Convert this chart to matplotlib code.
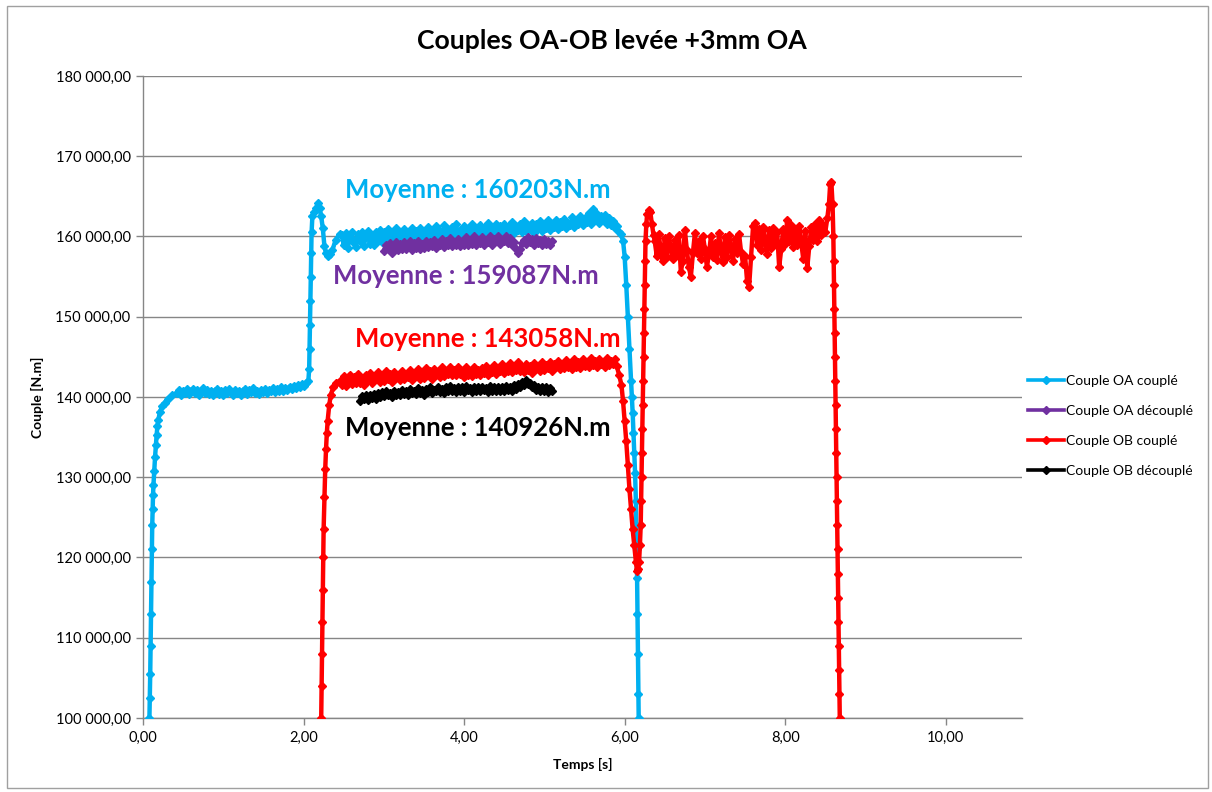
import numpy as np
import matplotlib
matplotlib.use("Agg")
import matplotlib.pyplot as plt
from matplotlib.ticker import FuncFormatter, MultipleLocator
from matplotlib.patches import Rectangle

plt.rcParams['font.family'] = ['Lato', 'DejaVu Sans']

# ---------------- DATA (torque values in kN.m, converted to N.m below) ----------------
STEP = 0.025

# ---- Couple OA couplé ----
oa_c_t_rise = [0.080, 0.085, 0.090, 0.095, 0.100, 0.105, 0.110, 0.115, 0.120, 0.125, 0.130,
               0.140, 0.150, 0.160, 0.170, 0.180, 0.190, 0.21, 0.24, 0.27, 0.31, 0.36, 0.42]
oa_c_v_rise = [100.0, 102.5, 105.5, 109.0, 113.0, 117.0, 121.0, 124.0, 126.0, 127.8, 129.0,
               130.8, 132.5, 134.0, 135.3, 136.4, 137.1, 138.1, 138.9, 139.3, 139.8, 140.2, 140.5]
oa_c_flat1_start = 0.45
oa_c_v_flat1 = [140.9, 140.3, 140.8, 140.5, 141.0, 140.4, 140.7, 141.0,
                140.5, 140.9, 140.3, 140.8, 141.1, 140.5, 140.9, 140.4,
                140.8, 140.2, 140.7, 141.0, 140.4, 140.8, 140.3, 140.9,
                140.5, 141.0, 140.6, 140.3, 140.9, 140.5, 140.8, 140.2,
                140.7, 141.0, 140.4, 140.9, 140.6, 141.1, 140.5, 140.8,
                140.4, 140.9, 140.6, 141.0, 140.5, 140.9, 140.7, 141.1,
                140.6, 141.0, 140.8, 141.2, 140.7, 141.1, 140.9, 141.3,
                141.0, 141.4, 141.1, 141.5, 141.2, 141.6, 141.4, 141.7]
oa_c_t_jump = [2.060, 2.070, 2.075, 2.080, 2.085, 2.090, 2.095, 2.100, 2.110, 2.130, 2.160,
               2.180, 2.200, 2.220, 2.240, 2.260, 2.280, 2.300, 2.330, 2.360, 2.40, 2.45]
oa_c_v_jump = [142.0, 143.5, 146.0, 149.0, 152.0, 155.0, 158.0, 160.5, 162.5, 163.0, 163.6,
               164.2, 163.5, 162.5, 161.0, 158.8, 157.9, 157.6, 157.8, 158.3, 159.6, 160.3]
oa_c_flat2_start = 2.475
oa_c_v_flat2 = [160.2, 159.0, 160.4, 158.6, 159.8, 160.6, 159.2, 158.7, 160.3, 159.4,
                160.5, 158.8, 159.9, 160.7, 159.1, 160.2, 158.9, 160.6, 159.5, 160.8,
                159.3, 160.5, 159.1, 160.9, 159.6, 160.4, 159.2, 161.0, 159.7, 160.6,
                159.4, 160.9, 159.8, 160.5, 159.3, 161.1, 159.9, 160.7, 159.5, 161.0,
                159.8, 160.6, 159.4, 161.2, 160.0, 160.8, 159.6, 161.3, 160.1, 160.7,
                159.7, 161.4, 160.2, 160.9, 159.8, 161.2, 160.3, 161.5, 159.9, 160.8,
                160.4, 161.3, 159.9, 161.0, 160.5, 161.6, 160.1, 160.9, 160.4, 161.4,
                160.0, 161.1, 160.6, 161.7, 160.2, 161.0, 160.5, 161.5, 160.1, 161.3,
                160.6, 161.6, 160.3, 161.2, 160.7, 161.8, 160.4, 161.3, 160.8, 161.6,
                160.5, 161.9, 160.7, 161.4, 160.9, 161.7, 160.4, 161.5, 161.0, 161.9,
                160.7, 161.6, 161.1, 162.0, 160.8, 161.5, 161.2, 162.1, 160.9, 161.8,
                161.3, 162.2, 161.0, 161.7, 161.4, 162.4, 161.2, 161.9, 161.6, 162.6,
                161.4, 162.3, 161.8, 162.9, 161.6, 163.4, 162.2, 162.8, 161.7, 162.6,
                162.1, 162.7, 161.5, 162.3, 161.4, 161.9, 161.0, 161.3, 160.6, 160.3]
oa_c_t_drop = [5.98, 6.00, 6.02, 6.04, 6.06, 6.08, 6.09, 6.10, 6.11, 6.12, 6.13, 6.14, 6.145,
               6.15, 6.155, 6.16, 6.165, 6.17, 6.175]
oa_c_v_drop = [159.5, 157.5, 154.0, 150.0, 146.0, 142.0, 140.0, 138.0, 135.5, 133.0, 130.5,
               127.0, 124.0, 121.0, 117.5, 113.0, 108.0, 103.0, 100.0]

# ---- Couple OA découplé ----
oa_d_start = 3.00
oa_d_v = [158.2, 159.0, 158.4, 159.2, 158.0, 158.8, 159.3, 158.3, 159.1, 158.5,
          159.3, 158.4, 158.9, 159.4, 158.3, 159.2, 158.6, 159.5, 158.5, 159.1,
          158.6, 159.5, 158.7, 159.3, 158.8, 159.6, 158.6, 159.2, 158.9, 159.7,
          158.7, 159.4, 158.9, 159.8, 158.8, 159.3, 159.0, 159.7, 158.8, 159.5,
          159.0, 159.9, 158.9, 159.4, 159.1, 160.0, 158.9, 159.6, 159.2, 159.9,
          159.0, 159.5, 159.3, 160.0, 159.0, 159.7, 159.4, 160.1, 159.1, 159.6,
          159.4, 160.1, 159.2, 159.8, 158.9, 159.3, 158.4, 158.0, 158.5, 159.2,
          159.6, 159.1, 159.9, 159.3, 159.7, 159.0, 159.8, 159.2, 159.6, 159.0,
          159.7, 159.1, 159.5, 159.0, 159.4]

# ---- Couple OB couplé ----
ob_c_t_rise = [2.220, 2.225, 2.230, 2.235, 2.240, 2.245, 2.250, 2.26, 2.27, 2.28, 2.29, 2.30,
               2.32, 2.34, 2.37, 2.41, 2.45]
ob_c_v_rise = [100.0, 104.0, 108.0, 112.0, 116.0, 120.0, 123.5, 127.5, 131.0, 133.5, 135.5,
               137.0, 139.0, 140.3, 141.2, 141.7, 142.0]
ob_c_flat1_start = 2.475
ob_c_v_flat1 = [141.5, 142.6, 141.4, 142.3, 142.8, 141.6, 142.5, 141.8, 142.9, 141.7,
                142.4, 141.5, 142.8, 142.1, 143.0, 141.8, 142.6, 142.2, 143.1, 141.9,
                142.7, 142.0, 143.2, 142.3, 142.9, 141.9, 143.1, 142.4, 142.8, 142.1,
                143.3, 142.2, 142.9, 142.5, 143.4, 142.1, 143.0, 142.6, 143.5, 142.3,
                143.1, 142.4, 143.6, 142.7, 143.2, 142.3, 143.5, 142.8, 143.3, 142.5,
                143.7, 142.6, 143.2, 142.9, 143.8, 142.7, 143.4, 142.8, 143.7, 142.9,
                143.1, 142.5, 143.7, 142.8, 143.3, 142.6, 143.8, 142.9, 143.4, 142.7,
                143.6, 143.0, 143.9, 142.8, 143.5, 143.1, 144.0, 142.9, 143.6, 143.2,
                144.1, 143.0, 143.7, 143.3, 144.2, 143.1, 143.8, 143.4, 144.3, 143.2,
                143.7, 143.1, 144.1, 143.4, 143.9, 143.0, 144.2, 143.5, 143.8, 143.3,
                144.3, 143.4, 144.0, 143.6, 144.4, 143.3, 144.1, 143.7, 144.5, 143.5,
                144.0, 143.6, 144.6, 143.7, 144.2, 143.5, 144.7, 143.8, 144.3, 143.6,
                144.7, 143.9, 144.4, 143.7, 144.8, 144.0, 144.5, 143.8, 144.7, 144.1,
                144.4, 143.8, 144.8, 144.0, 144.5, 144.1, 144.7, 143.9]
ob_c_t_dip = [5.93, 5.96, 5.98, 6.00, 6.02, 6.04, 6.06, 6.08, 6.10, 6.12, 6.14, 6.155, 6.17,
              6.18, 6.19, 6.20, 6.205, 6.21, 6.215, 6.22, 6.225, 6.23, 6.235, 6.24, 6.245,
              6.25, 6.255, 6.26, 6.27, 6.28, 6.30, 6.32, 6.34, 6.36]
ob_c_v_dip = [142.8, 141.5, 139.5, 137.0, 134.5, 131.5, 128.5, 126.0, 123.5, 121.5, 119.5,
              118.3, 118.6, 119.5, 121.5, 124.0, 127.0, 130.0, 133.0, 136.0, 139.0, 142.0,
              145.0, 148.0, 151.0, 154.0, 157.0, 159.5, 161.5, 162.8, 163.3, 163.0, 161.5, 160.2]
ob_c_flat2_start = 6.375
ob_c_v_flat2 = [159.4, 157.6, 160.3, 158.2, 156.9, 159.8, 157.4, 160.1, 158.5, 157.2,
                159.6, 157.8, 160.2, 155.6, 157.0, 160.8, 158.3, 156.2, 155.0, 157.9,
                160.4, 158.0, 159.5, 157.2, 160.1, 158.4, 156.2, 157.8, 160.0, 157.5,
                159.2, 157.1, 160.4, 158.3, 156.8, 159.9, 157.4, 160.2, 158.6, 157.0,
                159.7, 157.9, 160.3, 158.1, 156.6, 157.6, 154.5, 153.7, 157.5, 161.3,
                161.7, 159.0, 160.9, 158.3, 161.2, 159.4, 157.8, 160.8, 158.6, 161.1,
                159.2, 160.6, 156.2, 158.4, 160.9, 159.1, 162.1, 159.5, 161.4, 158.7,
                160.8, 158.9, 161.3, 159.3, 157.2, 160.7, 156.1, 158.8, 161.2, 159.6,
                161.6, 159.5, 162.0, 160.2, 161.4, 160.6, 162.3]
ob_c_t_fall = [8.545, 8.560, 8.575, 8.590, 8.600, 8.604, 8.608, 8.612, 8.616, 8.620, 8.624,
               8.628, 8.632, 8.636, 8.640, 8.644, 8.648, 8.652, 8.656, 8.660, 8.664, 8.668,
               8.672, 8.676, 8.680]
ob_c_v_fall = [164.0, 166.5, 166.8, 164.0, 160.0, 157.0, 154.0, 151.0, 148.0, 145.0, 142.0,
               139.0, 136.0, 133.0, 130.0, 127.0, 124.0, 121.0, 118.0, 115.0, 112.0, 109.0,
               106.0, 103.0, 100.0]

# ---- Couple OB découplé ----
ob_d_start = 2.70
ob_d_v = [139.5, 140.1, 139.7, 140.2, 139.6, 140.3, 139.9, 140.4, 139.8, 140.5,
          140.0, 140.6, 140.1, 140.7, 140.2, 140.5, 140.0, 140.8, 140.3, 140.6,
          140.2, 140.9, 140.4, 140.7, 140.3, 141.0, 140.5, 140.8, 140.4, 141.1,
          140.5, 140.9, 140.3, 141.0, 140.6, 141.2, 140.5, 140.9, 140.7, 141.3,
          140.6, 141.0, 140.5, 141.2, 140.8, 141.4, 140.7, 141.1, 140.6, 141.3,
          140.8, 141.2, 140.6, 141.4, 140.9, 141.1, 140.6, 141.3, 140.8, 141.2,
          140.7, 141.3, 140.9, 141.1, 140.6, 141.4, 140.8, 141.2, 140.7, 141.3,
          140.8, 141.2, 140.7, 141.4, 140.9, 141.3, 140.8, 141.5, 141.0, 141.6,
          141.2, 141.9, 141.5, 142.1, 141.6, 141.8, 141.2, 141.5, 140.9, 141.3,
          140.7, 141.2, 140.8, 141.3, 140.6, 141.1, 140.8]

series_names = ["Couple OA couplé", "Couple OA découplé", "Couple OB couplé", "Couple OB découplé"]
series_colors = ["#00B0F0", "#7030A0", "#FF0000", "#000000"]
annot_texts = ["Moyenne : 160203N.m", "Moyenne : 159087N.m", "Moyenne : 143058N.m", "Moyenne : 140926N.m"]
annot_pos = [(4.17, 165800), (4.02, 155100), (4.29, 147200), (4.17, 136150)]

title = "Couples OA-OB levée +3mm OA"
xlabel = "Temps [s]"
ylabel = "Couple [N.m]"


# ---------------- assemble ----------------
def grid_times(start, values):
    return list(np.round(start + STEP * np.arange(len(values)), 4))


oa_c_t = np.array(oa_c_t_rise + grid_times(oa_c_flat1_start, oa_c_v_flat1) + oa_c_t_jump
                  + grid_times(oa_c_flat2_start, oa_c_v_flat2) + oa_c_t_drop)
oa_c_y = np.array(oa_c_v_rise + oa_c_v_flat1 + oa_c_v_jump + oa_c_v_flat2 + oa_c_v_drop) * 1000
ob_c_t = np.array(ob_c_t_rise + grid_times(ob_c_flat1_start, ob_c_v_flat1) + ob_c_t_dip
                  + grid_times(ob_c_flat2_start, ob_c_v_flat2) + ob_c_t_fall)
ob_c_y = np.array(ob_c_v_rise + ob_c_v_flat1 + ob_c_v_dip + ob_c_v_flat2 + ob_c_v_fall) * 1000
oa_d_t = np.array(grid_times(oa_d_start, oa_d_v))
oa_d_y = np.array(oa_d_v) * 1000
ob_d_t = np.array(grid_times(ob_d_start, ob_d_v))
ob_d_y = np.array(ob_d_v) * 1000

series = [(oa_c_t, oa_c_y), (oa_d_t, oa_d_y), (ob_c_t, ob_c_y), (ob_d_t, ob_d_y)]

fig = plt.figure(figsize=(12.12, 7.92), dpi=100)
ax = fig.add_axes([143/1212, 74/792, (1022-143)/1212, (718-76)/792])

grid_c = "#868686"
for (t, y), name, c in zip(series, series_names, series_colors):
    ax.plot(t, y, color=c, lw=3.2, marker='D', ms=4.4, mec=c, mfc=c, label=name,
            solid_joinstyle='round', zorder=3)

ax.set_xlim(0, 10.95)
ax.set_ylim(100000, 180000)
ax.xaxis.set_major_locator(MultipleLocator(2))
ax.yaxis.set_major_locator(MultipleLocator(10000))


def yfmt(v, pos):
    return "{:,.2f}".format(v).replace(",", " ").replace(".", ",")


def xfmt(v, pos):
    return "{:.2f}".format(v).replace(".", ",")


ax.yaxis.set_major_formatter(FuncFormatter(yfmt))
ax.xaxis.set_major_formatter(FuncFormatter(xfmt))
ax.grid(axis='y', color=grid_c, lw=1.0, zorder=0)
ax.set_axisbelow(True)
for s in ['top', 'right']:
    ax.spines[s].set_visible(False)
for s in ['left', 'bottom']:
    ax.spines[s].set_color(grid_c)
    ax.spines[s].set_linewidth(1.0)
ax.tick_params(axis='both', colors=grid_c, length=5, width=1.0, labelsize=10.5,
               labelcolor='black', pad=4)

ax.set_xlabel(xlabel, fontsize=10, fontweight='bold', labelpad=10)
ax.set_ylabel(ylabel, fontsize=10, fontweight='bold', labelpad=8)
fig.text(0.505, 0.948, title, ha='center', va='center', fontsize=19.2, fontweight='bold')

for txt, (x, y), c in zip(annot_texts, annot_pos, series_colors):
    ax.text(x, y, txt, color=c, fontsize=18.5, fontweight='bold', ha='center', va='center',
            zorder=4)

leg = fig.legend(loc='upper left', bbox_to_anchor=(1022/1212, 1 - 369/792), frameon=False,
                 fontsize=10, handlelength=2.6, labelspacing=1.3, handletextpad=0.2,
                 borderaxespad=0)
for h in leg.legend_handles:
    h.set_linewidth(2.6)
    h.set_markersize(3.6)

fig.add_artist(Rectangle((7/1212, 4/792), 1201/1212, 782/792, transform=fig.transFigure,
                         fill=False, edgecolor="#A0A0A0", lw=1.0))

fig.savefig("out.png", dpi=100)
